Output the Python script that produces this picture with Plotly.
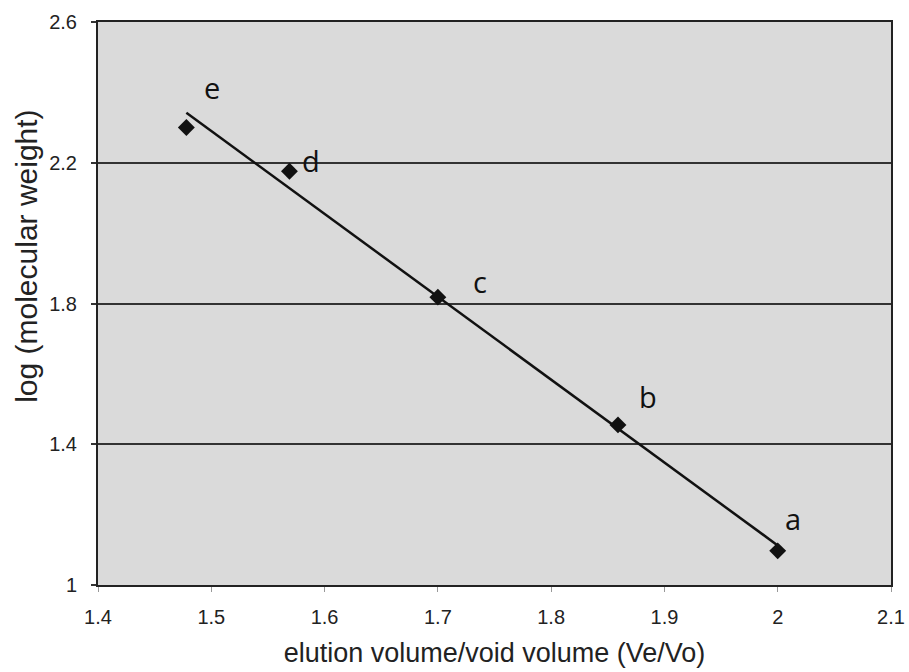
import numpy as np
import plotly.graph_objects as go

# Data
labels = ["e", "d", "c", "b", "a"]
ve_vo = [1.478, 1.569, 1.700, 1.859, 2.000]
log_mw = [2.300, 2.176, 1.818, 1.455, 1.097]

x_ticks = [1.4, 1.5, 1.6, 1.7, 1.8, 1.9, 2.0, 2.1]
x_tick_text = ["1.4", "1.5", "1.6", "1.7", "1.8", "1.9", "2", "2.1"]
y_ticks = [1.0, 1.4, 1.8, 2.2, 2.6]
y_tick_text = ["1", "1.4", "1.8", "2.2", "2.6"]

# label offsets (pixels) relative to each point
label_dx = [26, 22, 42, 30, 15]
label_dy = [40, 11, 16, 28, 32]

# linear trendline fitted to the data
slope, intercept = np.polyfit(ve_vo, log_mw, 1)
fit_x = [min(ve_vo), max(ve_vo)]
fit_y = [slope * v + intercept for v in fit_x]

fig = go.Figure()
fig.add_trace(go.Scatter(x=fit_x, y=fit_y, mode="lines",
                         line=dict(color="#111111", width=2.5),
                         hoverinfo="skip", showlegend=False))
fig.add_trace(go.Scatter(x=ve_vo, y=log_mw, mode="markers",
                         marker=dict(symbol="diamond", size=13, color="#111111"),
                         showlegend=False))

for lab, xv, yv, dx, dy in zip(labels, ve_vo, log_mw, label_dx, label_dy):
    fig.add_annotation(x=xv, y=yv, text=lab, showarrow=False,
                       xshift=dx, yshift=dy,
                       font=dict(family="Open Sans", size=29, color="#111111"))

# y-axis title (placed slightly above centre, as in the reference)
fig.add_annotation(xref="paper", yref="paper", x=-0.09, y=0.584,
                   text="log (molecular weight)", textangle=-90,
                   showarrow=False, xanchor="center", yanchor="middle",
                   font=dict(family="Liberation Sans, Arial", size=30,
                             color="#222222"))

fig.update_layout(
    width=909, height=672,
    margin=dict(l=98, r=18, t=22, b=87),
    paper_bgcolor="white",
    plot_bgcolor="#dadada",
    font=dict(family="Liberation Sans, Arial", color="#222222"),
)
fig.update_xaxes(
    range=[1.4, 2.1], tickvals=x_ticks, ticktext=x_tick_text,
    showgrid=False, zeroline=False, automargin=False,
    showline=True, linecolor="#222222", linewidth=2, mirror=True,
    ticks="outside", ticklen=5, tickcolor="#999999", tickwidth=1,
    ticklabelstandoff=8,
    tickfont=dict(size=20, color="#222222"),
    title=dict(text="elution volume/void volume (Ve/Vo)",
               font=dict(size=27, color="#222222"), standoff=16),
)
fig.update_yaxes(
    range=[1.0, 2.6], tickvals=y_ticks, ticktext=y_tick_text,
    showgrid=True, gridcolor="#333333", gridwidth=1.5, zeroline=False,
    automargin=False,
    showline=True, linecolor="#222222", linewidth=2, mirror=True,
    ticks="outside", ticklen=5, tickcolor="#333333", tickwidth=1.5,
    ticklabelstandoff=10,
    tickfont=dict(size=20, color="#222222"),
)

fig.write_html("out.html")
